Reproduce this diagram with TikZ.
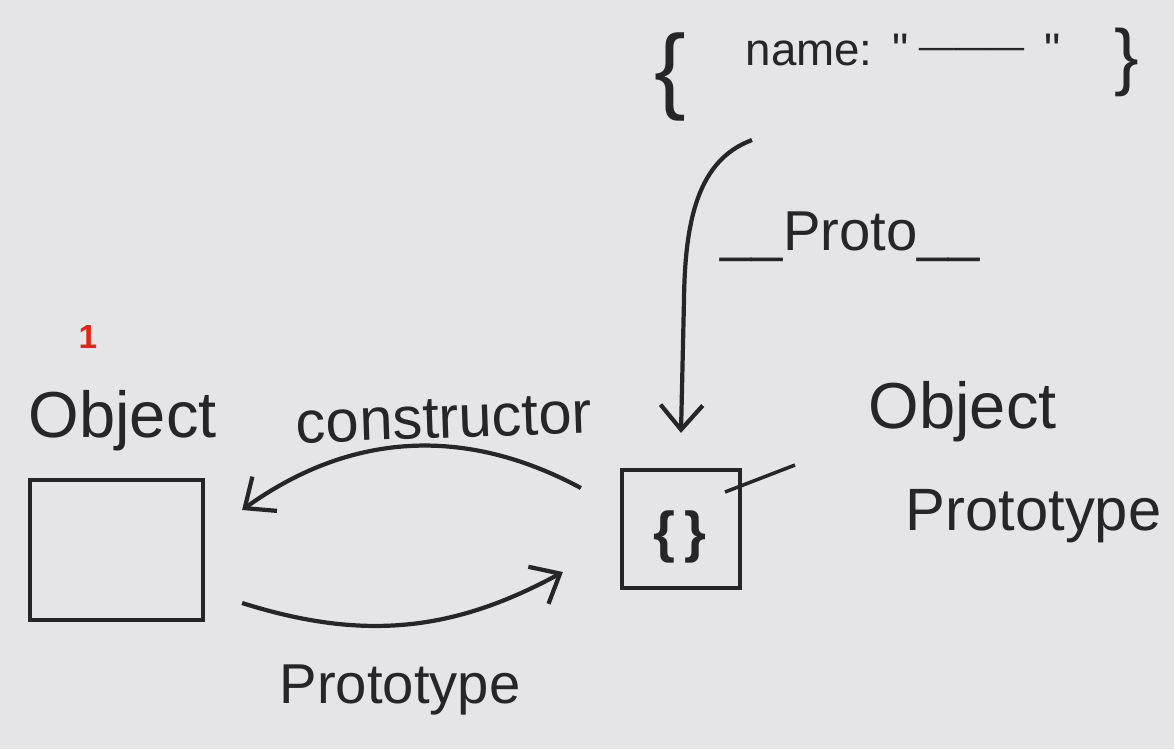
\documentclass[tikz,border=0pt]{standalone}
\usepackage{fontspec}
\setmainfont{Liberation Sans}
\newfontfamily\plainquote{Liberation Sans}
\usetikzlibrary{
  arrows.meta,
  positioning,
  calc
}
\definecolor{paper}{RGB}{229,229,232}
\definecolor{ink}{RGB}{38,38,40}
\definecolor{markred}{RGB}{232,34,18}
\tikzset{
  objbox/.style={
    draw=ink, line width=1.2pt, minimum width=1.73cm,
    minimum height=1.4cm, inner sep=0pt
  },
  protobox/.style={
    draw=ink, line width=1.2pt, minimum width=1.18cm,
    minimum height=1.18cm, inner sep=0pt
  },
  handlabel/.style={
    font=\fontsize{17}{20}\selectfont\color{ink},
    inner sep=0pt
  },
  bracelabel/.style={
    text=ink, inner sep=0pt
  },
  linkarrow/.style={
    -{Straight Barb[length=7pt,width=12pt,line width=1.2pt]},
    draw=ink, line width=1.2pt
  },
  pointerline/.style={
    draw=ink, line width=1pt
  },
}

\begin{document}
\begin{tikzpicture}

  \fill[paper] (0,0) rectangle (11.74,-7.49);

  %% Object constructor
  \node[text=markred, font=\fontsize{9.5}{10}\selectfont\bfseries, inner sep=0pt]
    (num) at (0.88,-3.37) {1};
  \node[handlabel, font=\fontsize{18.5}{21}\selectfont\color{ink}, anchor=base west]
    (objname) at (0.28,-4.37) {Object};
  \node[objbox] (obj) at (1.165,-5.50) {};

  %% Object.prototype
  \node[protobox] (proto) at (6.81,-5.29) {};
  \node[bracelabel, font=\fontsize{16}{18}\selectfont\bfseries]
    (empty) at (6.80,-5.37) {\{\,\}};
  \node[handlabel, font=\fontsize{18.5}{21}\selectfont\color{ink}, anchor=base west]
    (protoname) at (8.68,-4.28) {Object};
  \node[handlabel, anchor=base west] (protoname2) at (9.05,-5.30) {Prototype};
  \coordinate (tagend) at (7.95,-4.65);
  \draw[pointerline] ([xshift=4.4mm,yshift=3.7mm]proto.center) -- (tagend);

  %% instance literal
  \node[bracelabel, font=\fontsize{27}{30}\selectfont] (lbrace) at (6.70,-0.77) {\{};
  \node[handlabel, font=\fontsize{13}{15}\selectfont\color{ink}, anchor=base west]
    (namekey) at (7.45,-0.65)
    {name:\hspace{0.2cm}{\plainquote"}\hspace{0.1cm}\raisebox{0.07cm}{\fontsize{10}{12}\selectfont———}\hspace{0.2cm}{\plainquote"}};
  \node[bracelabel, font=\fontsize{21}{24}\selectfont] (rbrace) at (11.27,-0.62) {\}};

  %% links
  \coordinate (protostart) at (7.52,-1.40);
  \draw[linkarrow] (protostart) .. controls (6.98,-1.60) and (6.85,-2.20) .. (6.84,-3.00)
    -- ([yshift=3.5mm]proto.north);
  \node[handlabel, font=\fontsize{16}{18}\selectfont\color{ink}, anchor=base west]
    (protolink) at (7.20,-2.50) {\_\_Proto\_\_};

  \draw[linkarrow] ([xshift=-3.9mm,yshift=4.1mm]proto.west)
    to[bend right=32] ([xshift=3.7mm,yshift=4.0mm]obj.east);
  \node[handlabel, rotate=2] (ctorlink) at (4.44,-4.19) {constructor};

  \draw[linkarrow] ([xshift=3.7mm,yshift=-5.3mm]obj.east)
    to[bend right=23] ([xshift=-5.7mm,yshift=-4.3mm]proto.west);
  \node[handlabel, font=\fontsize{16}{18}\selectfont\color{ink}, anchor=base]
    (protolink2) at (4.00,-7.03) {Prototype};

\end{tikzpicture}
\end{document}
